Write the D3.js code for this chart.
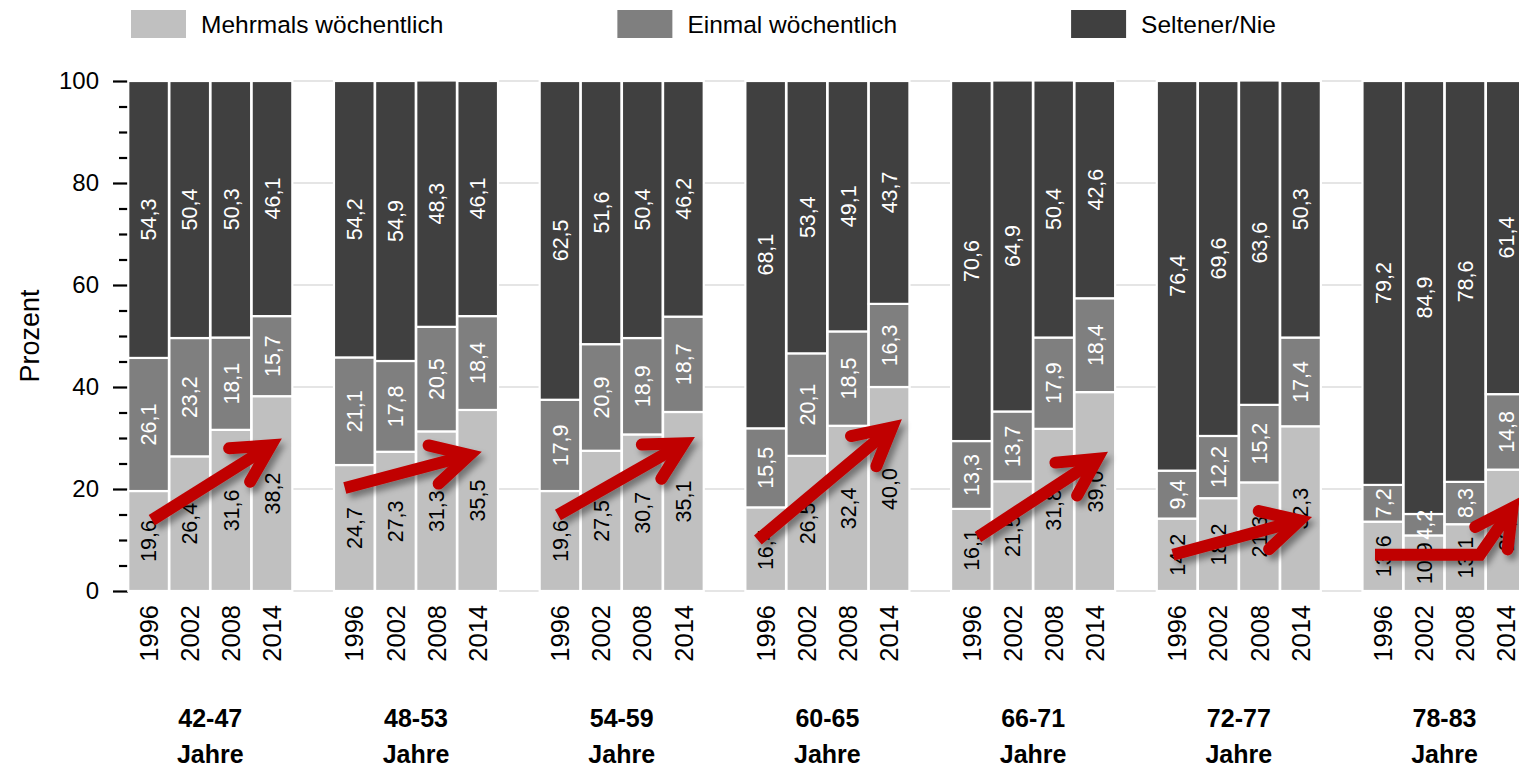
<!DOCTYPE html>
<html>
<head>
<meta charset="utf-8">
<script src="https://cdn.jsdelivr.net/npm/d3@7"></script>
<style>
  html, body { margin: 0; padding: 0; background: #fff; overflow: hidden; }
  svg { display: block; font-family: "Liberation Sans", Arial, sans-serif; }
</style>
</head>
<body>
<svg id="chart" width="1519" height="769"></svg>
<script>
// Age groups and survey years
const groups = ["42-47", "48-53", "54-59", "60-65", "66-71", "72-77", "78-83"];
const years = ["1996", "2002", "2008", "2014"];

// Share (%) per age group, one value per survey year
const mehrmals = [
  [19.6, 26.4, 31.6, 38.2],
  [24.7, 27.3, 31.3, 35.5],
  [19.6, 27.5, 30.7, 35.1],
  [16.4, 26.5, 32.4, 40.0],
  [16.1, 21.5, 31.8, 39.0],
  [14.2, 18.2, 21.3, 32.3],
  [13.6, 10.9, 13.1, 23.8]
];
const einmal = [
  [26.1, 23.2, 18.1, 15.7],
  [21.1, 17.8, 20.5, 18.4],
  [17.9, 20.9, 18.9, 18.7],
  [15.5, 20.1, 18.5, 16.3],
  [13.3, 13.7, 17.9, 18.4],
  [9.4, 12.2, 15.2, 17.4],
  [7.2, 4.2, 8.3, 14.8]
];
const seltener = [
  [54.3, 50.4, 50.3, 46.1],
  [54.2, 54.9, 48.3, 46.1],
  [62.5, 51.6, 50.4, 46.2],
  [68.1, 53.4, 49.1, 43.7],
  [70.6, 64.9, 50.4, 42.6],
  [76.4, 69.6, 63.6, 50.3],
  [79.2, 84.9, 78.6, 61.4]
];

const seriesNames = ["Mehrmals wöchentlich", "Einmal wöchentlich", "Seltener/Nie"];
const majorTicks = [0, 20, 40, 60, 80, 100];
const minorTicks = [5, 10, 15, 25, 30, 35, 45, 50, 55, 65, 70, 75, 85, 90, 95];

// Trend arrows: points given as (position across the four bars of a group, value in %)
const trendArrows = [
  { group: "42-47", pts: [[0.58, 13.9], [3.74, 29.9]] },
  { group: "48-53", pts: [[0.27, 20.2], [3.60, 27.3]] },
  { group: "54-59", pts: [[0.45, 14.9], [3.78, 30.2]] },
  { group: "60-65", pts: [[0.31, 10.0], [3.81, 33.7]] },
  { group: "66-71", pts: [[0.66, 10.6], [3.82, 27.3]] },
  { group: "72-77", pts: [[0.40, 7.1], [3.78, 14.5]] },
  { group: "78-83", pts: [[0.31, 7.1], [2.86, 7.1], [3.83, 18.4]] }
];

const colors = ["#c0c0c0", "#7f7f7f", "#404040"];
const labelColors = ["#000", "#fff", "#fff"];

const de = d3.formatLocale({ decimal: ",", thousands: ".", grouping: [3], currency: ["", " €"] });
const fmt = de.format(".1f");

const svg = d3.select("#chart");

const defs = svg.append("defs");
const shadow = defs.append("filter").attr("id", "arrowShadow")
  .attr("x", "-20%").attr("y", "-20%").attr("width", "150%").attr("height", "150%");
shadow.append("feDropShadow").attr("dx", 4).attr("dy", 5).attr("stdDeviation", 3)
  .attr("flood-color", "#000").attr("flood-opacity", 0.4);

// Scales
const y = d3.scaleLinear().domain([0, 100]).range([591, 81]);
const x0 = d3.scaleBand().domain(groups).range([128, 1526.8]).paddingInner(0.2);
const x1 = d3.scaleBand().domain(years).range([0, x0.bandwidth()]);
const slot = d3.scaleLinear().domain([0, 4]).range([0, x0.bandwidth()]);

// Gridlines
svg.append("g").selectAll("line").data(majorTicks).join("line")
  .attr("x1", 128).attr("x2", 1519)
  .attr("y1", d => y(d)).attr("y2", d => y(d))
  .attr("stroke", "#dcdcdc").attr("stroke-width", 1.5);

// Y axis (major + minor ticks)
const axisMajor = svg.append("g").attr("transform", "translate(128,0)")
  .call(d3.axisLeft(y).tickValues(majorTicks).tickSize(15).tickPadding(14).tickFormat(d3.format("d")));
axisMajor.select(".domain").remove();
axisMajor.selectAll(".tick line").attr("stroke", "#000").attr("stroke-width", 2.2);
axisMajor.selectAll(".tick text").attr("font-size", 24).attr("fill", "#000")
  .attr("font-family", "Liberation Sans, Arial, sans-serif");

const axisMinor = svg.append("g").attr("transform", "translate(128,0)")
  .call(d3.axisLeft(y).tickValues(minorTicks).tickSize(9).tickFormat(""));
axisMinor.select(".domain").remove();
axisMinor.selectAll(".tick line").attr("stroke", "#000").attr("stroke-width", 2.2);

// Axis title
svg.append("text")
  .attr("transform", `translate(39,${y(50)}) rotate(-90)`)
  .attr("text-anchor", "middle")
  .attr("font-size", 27)
  .text("Prozent");

// Build stacked segments
const seriesData = [mehrmals, einmal, seltener];
const segments = [];
groups.forEach((g, gi) => {
  years.forEach((yr, yi) => {
    let base = 0;
    seriesData.forEach((s, si) => {
      const v = s[gi][yi];
      segments.push({ group: g, year: yr, series: si, v0: base, v1: base + v, value: v });
      base += v;
    });
  });
});

const bars = svg.append("g");
bars.selectAll("rect").data(segments).join("rect")
  .attr("x", d => x0(d.group) + x1(d.year) + 0.25)
  .attr("width", x1.bandwidth() - 0.5)
  .attr("y", d => y(d.v1))
  .attr("height", d => y(d.v0) - y(d.v1))
  .attr("fill", d => colors[d.series])
  .attr("stroke", "#fff")
  .attr("stroke-width", 2.2);

// Value labels inside segments
bars.selectAll("text").data(segments).join("text")
  .attr("transform", d => {
    const cx = x0(d.group) + x1(d.year) + x1.bandwidth() / 2;
    const cy = y((d.v0 + d.v1) / 2);
    return `translate(${cx},${cy}) rotate(-90)`;
  })
  .attr("text-anchor", "middle")
  .attr("dy", "0.36em")
  .attr("font-size", 21.5)
  .attr("fill", d => labelColors[d.series])
  .text(d => fmt(d.value));

// Year labels
const yearCells = groups.flatMap(g => years.map(yr => ({ group: g, year: yr })));
svg.append("g").selectAll("text").data(yearCells).join("text")
  .attr("transform", d => `translate(${x0(d.group) + x1(d.year) + x1.bandwidth() / 2},605) rotate(-90)`)
  .attr("text-anchor", "end")
  .attr("dy", "0.36em")
  .attr("font-size", 25.5)
  .text(d => d.year);

// Age group labels
const gl = svg.append("g").selectAll("g").data(groups).join("g")
  .attr("transform", g => `translate(${x0(g) + x0.bandwidth() / 2},0)`);
gl.append("text").attr("y", 727).attr("text-anchor", "middle")
  .attr("font-size", 25).attr("font-weight", "bold").text(g => g);
gl.append("text").attr("y", 763).attr("text-anchor", "middle")
  .attr("font-size", 25).attr("font-weight", "bold").text("Jahre");

// Trend arrows (the last point is where the visible tip of the head lies)
const arrowLayer = svg.append("g").attr("filter", "url(#arrowShadow)");
const strokeW = 12, headLen = 42, spread = 28 * Math.PI / 180;
trendArrows.forEach(a => {
  const px = a.pts.map(([s, v]) => [x0(a.group) + slot(s), y(v)]);
  const n = px.length;
  const prev = px[n - 2], visTip = px[n - 1];
  const ang = Math.atan2(visTip[1] - prev[1], visTip[0] - prev[0]);
  // pull the joint back so the mitred point lands on the visible tip
  const back = (strokeW / 2) / Math.sin(spread);
  const tip = [visTip[0] - back * Math.cos(ang), visTip[1] - back * Math.sin(ang)];
  px[n - 1] = tip;
  const b1 = [tip[0] - headLen * Math.cos(ang - spread), tip[1] - headLen * Math.sin(ang - spread)];
  const b2 = [tip[0] - headLen * Math.cos(ang + spread), tip[1] - headLen * Math.sin(ang + spread)];
  const g = arrowLayer.append("g");
  g.append("path")
    .attr("d", d3.line()(px))
    .attr("fill", "none").attr("stroke", "#c00000").attr("stroke-width", strokeW)
    .attr("stroke-linejoin", "miter").attr("stroke-linecap", "butt");
  g.append("path")
    .attr("d", d3.line()([b1, tip, b2]))
    .attr("fill", "none").attr("stroke", "#c00000").attr("stroke-width", strokeW)
    .attr("stroke-linejoin", "miter").attr("stroke-miterlimit", 10).attr("stroke-linecap", "round");
});

// Legend
const legend = svg.append("g");
let lx = 131;
seriesNames.forEach((name, i) => {
  legend.append("rect").attr("x", lx).attr("y", 10).attr("width", 55).attr("height", 28)
    .attr("fill", colors[i]);
  const t = legend.append("text").attr("x", lx + 70).attr("y", 33)
    .attr("font-size", 24.5).text(name);
  lx = lx + 70 + t.node().getComputedTextLength() + 174;
});
</script>
</body>
</html>
